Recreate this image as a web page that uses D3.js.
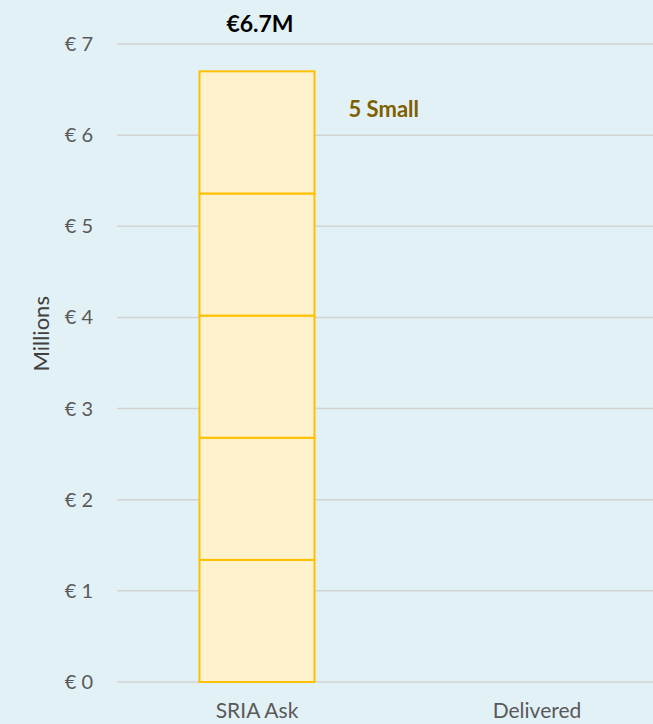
<!DOCTYPE html>
<html><head><meta charset="utf-8">
<script src="https://cdn.jsdelivr.net/npm/d3@7"></script>
<style>body{margin:0;background:#e2f1f5}svg{display:block}</style>
</head><body>
<script>
const categories = ["SRIA Ask", "Delivered"];
const segments = [1.34, 1.34, 1.34, 1.34, 1.34]; // SRIA Ask, 5 small projects (millions €)
const delivered = [];
const yTicks = [0, 1, 2, 3, 4, 5, 6, 7];
const totalLabel = "€6.7M";
const seriesLabel = "5 Small";

const W = 653, H = 724;
const svg = d3.select("body").append("svg").attr("width", W).attr("height", H);
svg.append("rect").attr("width", W).attr("height", H).attr("fill", "#e2f1f5");

const y = d3.scaleLinear().domain([0, 7]).range([682, 44]);
const x = d3.scaleBand().domain(categories).range([117, 677]).paddingInner(0).paddingOuter(0);
const barW = 115;
const font = "Lato, 'Open Sans', sans-serif";

// gridlines
svg.append("g").selectAll("line").data(yTicks).join("line")
  .attr("x1", 117).attr("x2", W).attr("y1", d => y(d)).attr("y2", d => y(d))
  .attr("stroke", "#d3d3d3").attr("stroke-width", 1.5);

// y tick labels
svg.append("g").selectAll("text").data(yTicks).join("text")
  .attr("x", 93).attr("y", d => y(d)).attr("dy", "0.35em")
  .attr("text-anchor", "end").attr("font-family", font).attr("font-size", 20)
  .attr("fill", "#595959").text(d => "€ " + d);

// y title
svg.append("text").attr("transform", `translate(49,${y(3.82)}) rotate(-90)`)
  .attr("text-anchor", "middle").attr("font-family", font).attr("font-size", 22)
  .attr("fill", "#404040").text("Millions");

// stacked segments
let acc = 0;
const stacked = segments.map(v => { const s = {y0: acc, y1: acc + v}; acc += v; return s; });
const cx = x("SRIA Ask") + x.bandwidth() / 2;
svg.append("g").selectAll("rect").data(stacked).join("rect")
  .attr("x", cx - barW / 2).attr("width", barW)
  .attr("y", d => y(d.y1)).attr("height", d => y(d.y0) - y(d.y1))
  .attr("fill", "#fff2cc").attr("stroke", "#ffc000").attr("stroke-width", 2);

// total label
svg.append("text").attr("x", cx + 3).attr("y", y(acc) - 39)
  .attr("text-anchor", "middle").attr("font-family", font).attr("font-weight", "bold")
  .attr("font-size", 23).attr("fill", "#000").text(totalLabel);

// series label
svg.append("text").attr("x", cx + barW / 2 + 34).attr("y", y(6.28)).attr("dy", "0.35em")
  .attr("font-family", font).attr("font-weight", "bold").attr("font-size", 22)
  .attr("fill", "#7f6000").text(seriesLabel);

// x labels
svg.append("g").selectAll("text").data(categories).join("text")
  .attr("x", d => x(d) + x.bandwidth() / 2).attr("y", 718)
  .attr("text-anchor", "middle").attr("font-family", font).attr("font-size", 21)
  .attr("fill", "#595959").text(d => d);
</script>
</body></html>
